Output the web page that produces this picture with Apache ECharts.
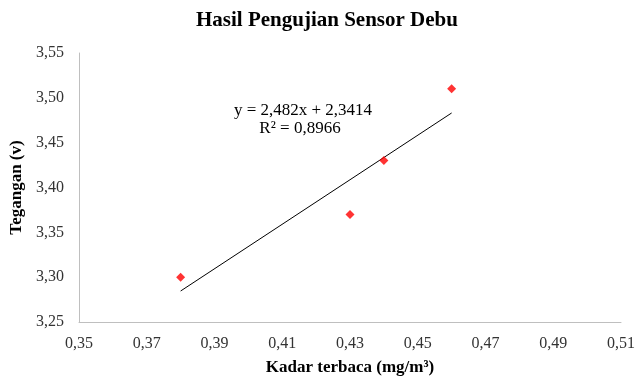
<!DOCTYPE html>
<html>
<head>
<meta charset="utf-8">
<script src="https://cdn.jsdelivr.net/npm/echarts@6/dist/echarts.min.js"></script>
<style>html,body{margin:0;padding:0;background:#fff}#c{width:638px;height:381px}</style>
</head>
<body>
<div id="c"></div>
<script>
var xValues = [0.38, 0.43, 0.44, 0.46];
var yValues = [3.30, 3.37, 3.43, 3.51];
var slope = 2.482;
var intercept = 2.3414;
var equationText = 'y = 2,482x + 2,3414';
var r2Text = 'R² = 0,8966';

var points = xValues.map(function (x, i) { return [x, yValues[i]]; });
var xMinData = Math.min.apply(null, xValues), xMaxData = Math.max.apply(null, xValues);
var trend = [[xMinData, slope * xMinData + intercept], [xMaxData, slope * xMaxData + intercept]];

var FONT = '"Liberation Serif", "Times New Roman", serif';
function fmt(v, d) { return v.toFixed(d).replace('.', ','); }

var chart = echarts.init(document.getElementById('c'), null, {renderer: 'canvas'});
chart.setOption({
  animation: false,
  title: {
    text: 'Hasil Pengujian Sensor Debu',
    left: 191, top: 5,
    textStyle: {fontFamily: FONT, fontWeight: 'bold', fontSize: 21, color: '#000'}
  },
  grid: {left: 79, right: 16, top: 53, bottom: 56, containLabel: false},
  xAxis: {
    type: 'value', min: 0.35, max: 0.51, interval: 0.02,
    name: 'Kadar terbaca (mg/m³)', nameLocation: 'middle', nameGap: 37,
    nameTextStyle: {fontFamily: FONT, fontWeight: 'bold', fontSize: 17, color: '#000'},
    axisLine: {show: true, lineStyle: {color: '#bfbfbf', width: 1}},
    axisTick: {show: false},
    splitLine: {show: false},
    axisLabel: {fontFamily: FONT, fontSize: 16, color: '#333', margin: 14,
      formatter: function (v) { return fmt(v, 2); }}
  },
  yAxis: {
    type: 'value', min: 3.25, max: 3.55, interval: 0.05,
    name: 'Tegangan (v)', nameLocation: 'middle', nameGap: 50, nameRotate: 90,
    nameTextStyle: {fontFamily: FONT, fontWeight: 'bold', fontSize: 17, color: '#000'},
    axisLine: {show: true, lineStyle: {color: '#bfbfbf', width: 1}},
    axisTick: {show: false},
    splitLine: {show: false},
    axisLabel: {fontFamily: FONT, fontSize: 16, color: '#333', margin: 15,
      formatter: function (v) { return fmt(v, 2); }}
  },
  series: [
    {
      type: 'line', data: trend, symbol: 'none', silent: true,
      lineStyle: {color: '#000', width: 1}, z: 1
    },
    {
      type: 'scatter', data: points, symbol: 'diamond', symbolSize: 9,
      itemStyle: {color: '#ff0000'}, z: 3
    }
  ],
  graphic: [
    {type: 'text', x: 303, y: 102, style: {text: equationText, font: '17px ' + FONT, fill: '#000', align: 'center', verticalAlign: 'top'}},
    {type: 'text', x: 300, y: 120, style: {text: r2Text, font: '17px ' + FONT, fill: '#000', align: 'center', verticalAlign: 'top'}}
  ]
});
</script>
</body>
</html>
